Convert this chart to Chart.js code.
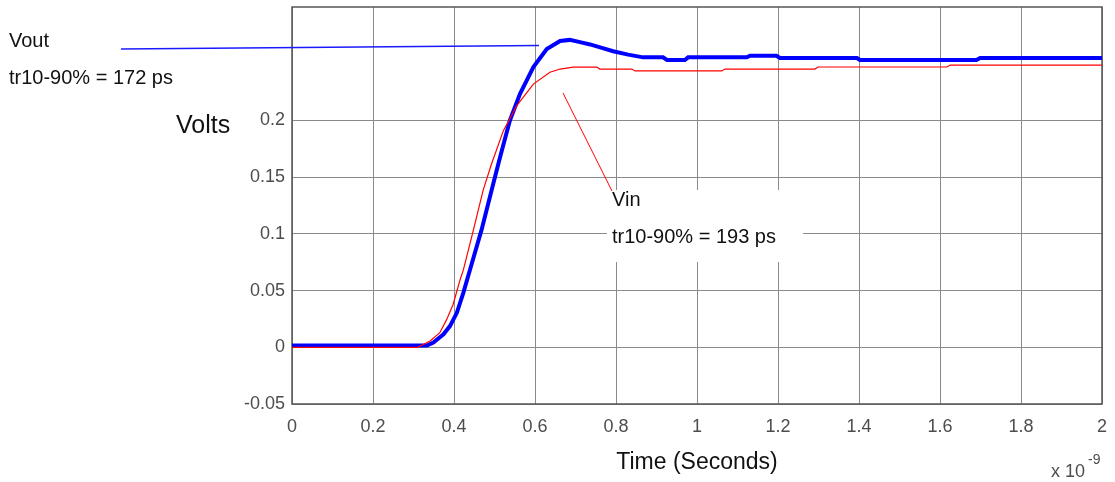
<!DOCTYPE html>
<html>
<head>
<meta charset="utf-8">
<script src="https://cdn.jsdelivr.net/npm/chart.js@4"></script>
<style>
    html, body { margin: 0; padding: 0; background: #fff; }
    canvas { display: block; }
</style>
</head>
<body>
<canvas id="stepChart" width="1115" height="482"></canvas>
<script>
// time in ns (axis shows x 10^-9 s), values in volts
const vinTime = [0, 0.31, 0.341, 0.365, 0.382, 0.398, 0.415, 0.423, 0.448, 0.472, 0.493, 0.522, 0.555, 0.596, 0.637, 0.662, 0.694, 0.753, 0.76, 0.839, 0.847, 1.061, 1.069, 1.291, 1.299, 1.617, 1.625, 2.0];
const vinVolts = [0, 0, 0.0056, 0.0129, 0.0246, 0.038, 0.0596, 0.068, 0.1035, 0.1386, 0.162, 0.191, 0.213, 0.232, 0.2425, 0.2453, 0.247, 0.247, 0.2453, 0.2453, 0.2436, 0.2436, 0.2453, 0.2453, 0.2471, 0.2471, 0.2488, 0.2488];

const voutTime = [0, 0.333, 0.349, 0.374, 0.39, 0.407, 0.423, 0.4395, 0.468, 0.493, 0.514, 0.538, 0.563, 0.596, 0.629, 0.662, 0.686, 0.711, 0.736, 0.765, 0.793, 0.83, 0.867, 0.916, 0.926, 0.97, 0.978, 1.123, 1.131, 1.196, 1.205, 1.395, 1.402, 1.69, 1.699, 2.0];
const voutVolts = [0.0015, 0.0015, 0.0041, 0.0114, 0.0187, 0.0304, 0.048, 0.0684, 0.1035, 0.1386, 0.168, 0.2, 0.2235, 0.247, 0.263, 0.27, 0.271, 0.269, 0.267, 0.264, 0.261, 0.258, 0.2556, 0.2556, 0.2533, 0.2533, 0.2556, 0.2556, 0.257, 0.257, 0.255, 0.255, 0.2533, 0.2533, 0.255, 0.255];

const xTicks = [0, 0.2, 0.4, 0.6, 0.8, 1, 1.2, 1.4, 1.6, 1.8, 2];
const yTicks = [-0.05, 0, 0.05, 0.1, 0.15, 0.2];

const FONT = '"Liberation Sans", Arial, sans-serif';

function toPoints(ts, vs) {
    return ts.map((t, i) => ({ x: t, y: vs[i] }));
}

// frame, text labels and pointer lines
const annotations = {
    id: 'annotations',
    beforeDatasetsDraw(chart) {
        const { ctx, chartArea: a } = chart;
        ctx.save();
        ctx.strokeStyle = '#555';
        ctx.lineWidth = 1.5;
        ctx.strokeRect(a.left, a.top, a.right - a.left, a.bottom - a.top);
        ctx.restore();
    },
    afterDraw(chart) {
        const ctx = chart.ctx;
        ctx.save();

        // white box behind the Vin label
        ctx.fillStyle = '#fff';
        ctx.fillRect(607, 190, 196, 72);

        // pointer lines
        ctx.strokeStyle = '#1a1aff';
        ctx.lineWidth = 1.3;
        ctx.beginPath();
        ctx.moveTo(121, 49);
        ctx.lineTo(539, 45.5);
        ctx.stroke();

        ctx.strokeStyle = '#ff0000';
        ctx.lineWidth = 1;
        ctx.beginPath();
        ctx.moveTo(563, 93);
        ctx.lineTo(612, 191);
        ctx.stroke();

        ctx.fillStyle = '#111';
        ctx.textAlign = 'left';
        ctx.textBaseline = 'alphabetic';
        ctx.font = '20px ' + FONT;
        ctx.fillText('Vout', 9, 47);
        ctx.fillText('tr10-90% = 172 ps', 9, 84);
        ctx.fillText('Vin', 612, 206);
        ctx.fillText('tr10-90% = 193 ps', 612, 243);

        // axis titles
        ctx.font = '25px ' + FONT;
        ctx.fillText('Volts', 176, 133);
        ctx.textAlign = 'center';
        ctx.font = '23px ' + FONT;
        ctx.fillText('Time (Seconds)', 697, 469);

        // exponent
        ctx.fillStyle = '#4d4d4d';
        ctx.textAlign = 'left';
        ctx.font = '18px ' + FONT;
        ctx.fillText('x 10', 1051, 477);
        ctx.font = '14px ' + FONT;
        ctx.fillText('-9', 1088, 464);
        ctx.restore();
    }
};

new Chart(document.getElementById('stepChart'), {
    type: 'line',
    data: {
        datasets: [
            {
                label: 'Vin',
                data: toPoints(vinTime, vinVolts),
                borderColor: '#ff0000',
                borderWidth: 1.2,
                pointRadius: 0,
                tension: 0
            },
            {
                label: 'Vout',
                data: toPoints(voutTime, voutVolts),
                borderColor: '#0000ff',
                borderWidth: 4,
                pointRadius: 0,
                tension: 0
            }
        ]
    },
    options: {
        responsive: false,
        animation: false,
        layout: { padding: { top: 7, right: 13, left: 0, bottom: 0 } },
        plugins: { legend: { display: false }, tooltip: { enabled: false } },
        scales: {
            x: {
                type: 'linear',
                min: 0,
                max: 2,
                afterBuildTicks: s => { s.ticks = xTicks.map(v => ({ value: v })); },
                afterFit: s => {
                    s.height = 78;
                    s.paddingLeft = 0;
                    s.paddingRight = 0;
                },
                grid: { color: '#8a8a8a', lineWidth: 1, drawTicks: false },
                border: { display: false },
                ticks: {
                    padding: 12,
                    color: '#4d4d4d',
                    font: { family: FONT, size: 18 },
                    callback: v => String(Number(v.toFixed(2)))
                }
            },
            y: {
                min: -0.05,
                max: 0.3,
                afterBuildTicks: s => { s.ticks = yTicks.map(v => ({ value: v })); },
                afterFit: s => {
                    s.width = 292;
                    s.paddingTop = 0;
                    s.paddingBottom = 0;
                },
                grid: { color: '#8a8a8a', lineWidth: 1, drawTicks: false },
                border: { display: false },
                ticks: {
                    padding: 7,
                    color: '#4d4d4d',
                    font: { family: FONT, size: 18 },
                    callback: v => String(Number(v.toFixed(2)))
                }
            }
        }
    },
    plugins: [annotations]
});
</script>
</body>
</html>
